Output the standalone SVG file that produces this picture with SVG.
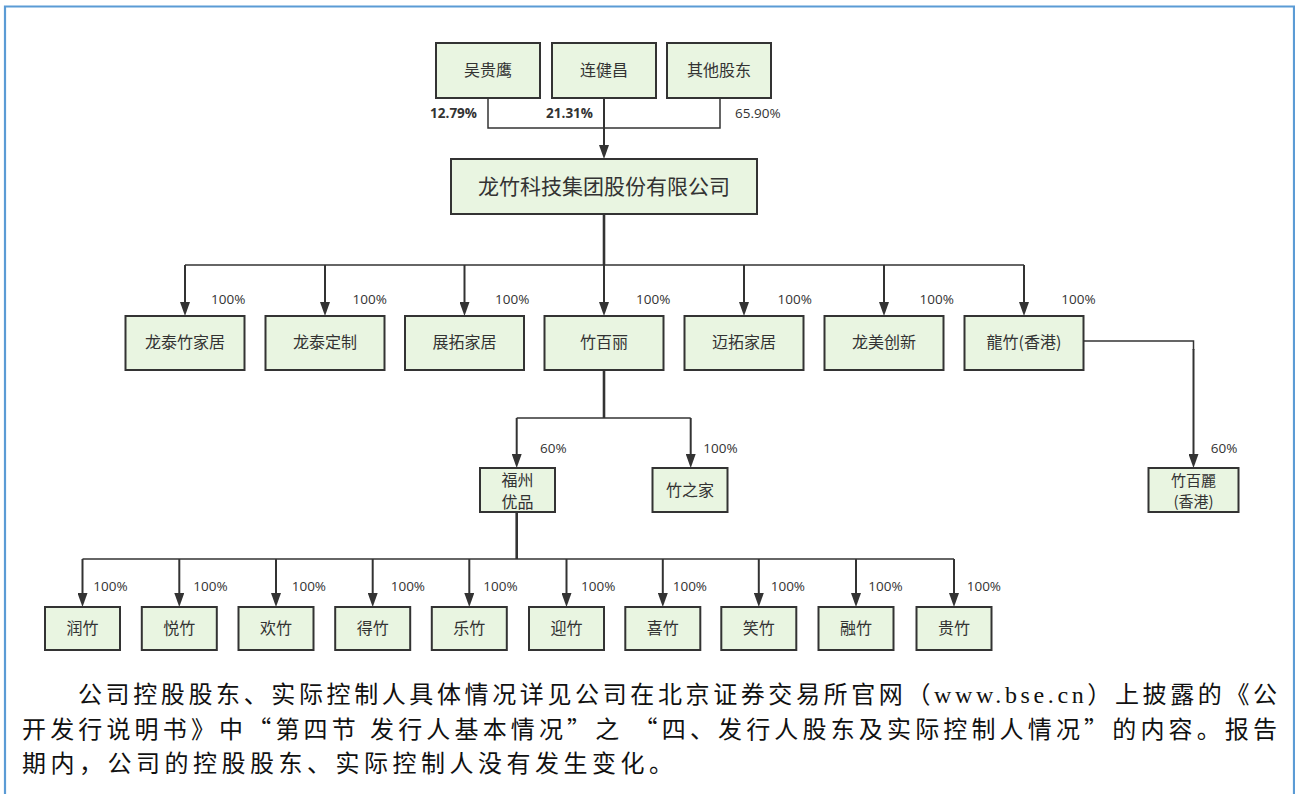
<svg xmlns="http://www.w3.org/2000/svg" width="1295" height="794" viewBox="0 0 1295 794">
<style>
.box{fill:#e9f5e1;stroke:#333;stroke-width:2}
.t{font-family:"Noto Sans CJK SC","Noto Sans",sans-serif;font-size:16px;fill:#333;text-anchor:middle}
.big{font-size:21px}
.sm{font-size:15px}
.p{font-family:"Open Sans","Noto Sans",sans-serif;font-size:13.5px;fill:#333}
.b{font-weight:bold}
.ln{fill:none;stroke:#333;stroke-width:1.5}
.tk{fill:none;stroke:#333;stroke-width:2.6}
.ar{fill:none;stroke:#333;stroke-width:2;marker-end:url(#ah)}
.para{font-family:"Liberation Serif","Noto Sans CJK SC",serif;font-size:24px;fill:#111}
.q{font-family:"Noto Sans CJK SC",sans-serif}
</style>
<defs>
<marker id="ah" markerUnits="userSpaceOnUse" markerWidth="14" markerHeight="10" viewBox="0 0 14 10" refX="6" refY="5" orient="auto">
<path d="M0,0 L14,5 L0,10 z" fill="#333"/>
</marker>
</defs>
<rect width="1295" height="794" fill="#fff"/>
<g id="frame" stroke="#5b9bd5" stroke-width="2.2" fill="none">
<path d="M5,794 V6.5 H1295"/>
<path d="M1294,6.5 V794"/>
</g>
<g id="connectors">
<path class="ln" d="M488,98 V128 H720 V98"/>
<path class="ar" d="M604,98 V151"/>
<path class="tk" d="M604,214 V265"/>
<path class="ln" d="M185,265 H1024"/>
<path class="ar" d="M185,265 V308"/>
<path class="ar" d="M325,265 V308"/>
<path class="ar" d="M464.5,265 V308"/>
<path class="ar" d="M604,265 V308"/>
<path class="ar" d="M744,265 V308"/>
<path class="ar" d="M884,265 V308"/>
<path class="ar" d="M1024,265 V308"/>
<path class="tk" d="M604,370 V418"/>
<path class="ln" d="M516.7,418 H690.7"/>
<path class="ar" d="M516.7,418 V460"/>
<path class="ar" d="M690.7,418 V460"/>
<path class="ln" d="M1084,341 H1193.5 V350"/>
<path class="ar" d="M1193.5,349 V460"/>
<path class="tk" d="M516.7,512 V559"/>
<path class="ln" d="M82.5,559 H954"/>
<path class="ar" d="M82.5,559 V599"/>
<path class="ar" d="M179.3,559 V599"/>
<path class="ar" d="M276,559 V599"/>
<path class="ar" d="M372.7,559 V599"/>
<path class="ar" d="M469.3,559 V599"/>
<path class="ar" d="M566.5,559 V599"/>
<path class="ar" d="M662.8,559 V599"/>
<path class="ar" d="M758.8,559 V599"/>
<path class="ar" d="M856,559 V599"/>
<path class="ar" d="M954,559 V599"/>
</g>
<g id="labels">
<text class="p b" x="477" y="118" text-anchor="end">12.79%</text>
<text class="p b" x="593" y="118" text-anchor="end">21.31%</text>
<text class="p" x="735" y="118">65.90%</text>
<text class="p" x="211" y="304">100%</text>
<text class="p" x="352.5" y="304">100%</text>
<text class="p" x="495" y="304">100%</text>
<text class="p" x="636" y="304">100%</text>
<text class="p" x="777.6" y="304">100%</text>
<text class="p" x="919.5" y="304">100%</text>
<text class="p" x="1061.3" y="304">100%</text>
<text class="p" x="540" y="453">60%</text>
<text class="p" x="703.3" y="453">100%</text>
<text class="p" x="1210.7" y="453">60%</text>
<text class="p" x="93.3" y="591">100%</text>
<text class="p" x="193.3" y="591">100%</text>
<text class="p" x="291.7" y="591">100%</text>
<text class="p" x="390.7" y="591">100%</text>
<text class="p" x="483.3" y="591">100%</text>
<text class="p" x="581" y="591">100%</text>
<text class="p" x="672.7" y="591">100%</text>
<text class="p" x="770.7" y="591">100%</text>
<text class="p" x="868.3" y="591">100%</text>
<text class="p" x="966.7" y="591">100%</text>
</g>
<g id="n-wu"><rect class="box" x="436" y="43" width="104" height="55"/><text class="t" x="488" y="76">吴贵鹰</text></g>
<g id="n-lian"><rect class="box" x="552" y="43" width="104" height="55"/><text class="t" x="604" y="76">连健昌</text></g>
<g id="n-other"><rect class="box" x="667" y="43" width="104" height="55"/><text class="t" x="719" y="76">其他股东</text></g>
<g id="n-main"><rect class="box" x="451" y="159" width="306" height="55"/><text class="t big" x="604" y="194">龙竹科技集团股份有限公司</text></g>
<g id="n-ltzjj"><rect class="box" x="125.5" y="316" width="119" height="54"/><text class="t" x="185" y="348">龙泰竹家居</text></g>
<g id="n-ltdz"><rect class="box" x="265.5" y="316" width="119" height="54"/><text class="t" x="325" y="348">龙泰定制</text></g>
<g id="n-ztjj"><rect class="box" x="405" y="316" width="119" height="54"/><text class="t" x="464.5" y="348">展拓家居</text></g>
<g id="n-zbl"><rect class="box" x="544.5" y="316" width="119" height="54"/><text class="t" x="604" y="348">竹百丽</text></g>
<g id="n-mtjj"><rect class="box" x="684.5" y="316" width="119" height="54"/><text class="t" x="744" y="348">迈拓家居</text></g>
<g id="n-lmcx"><rect class="box" x="824.5" y="316" width="119" height="54"/><text class="t" x="884" y="348">龙美创新</text></g>
<g id="n-lzhk"><rect class="box" x="964.5" y="316" width="119" height="54"/><text class="t" x="1024" y="348">龍竹(香港)</text></g>
<g id="n-fzyp"><rect class="box" x="480" y="468" width="75" height="44"/><text class="t" x="517.5" y="486">福州</text><text class="t" x="517.5" y="507.5">优品</text></g>
<g id="n-zzj"><rect class="box" x="652.5" y="468" width="75" height="44"/><text class="t" x="690" y="496">竹之家</text></g>
<g id="n-zblhk"><rect class="box" x="1148.5" y="468" width="90" height="44"/><text class="t sm" x="1193.5" y="485.5">竹百麗</text><text class="t sm" x="1193.5" y="507">(香港)</text></g>
<g id="n-b1"><rect class="box" x="45" y="607" width="75" height="43"/><text class="t" x="82.5" y="634">润竹</text></g>
<g id="n-b2"><rect class="box" x="141.8" y="607" width="75" height="43"/><text class="t" x="179.3" y="634">悦竹</text></g>
<g id="n-b3"><rect class="box" x="238.5" y="607" width="75" height="43"/><text class="t" x="276" y="634">欢竹</text></g>
<g id="n-b4"><rect class="box" x="335.2" y="607" width="75" height="43"/><text class="t" x="372.7" y="634">得竹</text></g>
<g id="n-b5"><rect class="box" x="431.8" y="607" width="75" height="43"/><text class="t" x="469.3" y="634">乐竹</text></g>
<g id="n-b6"><rect class="box" x="529" y="607" width="75" height="43"/><text class="t" x="566.5" y="634">迎竹</text></g>
<g id="n-b7"><rect class="box" x="625.3" y="607" width="75" height="43"/><text class="t" x="662.8" y="634">喜竹</text></g>
<g id="n-b8"><rect class="box" x="721.3" y="607" width="75" height="43"/><text class="t" x="758.8" y="634">笑竹</text></g>
<g id="n-b9"><rect class="box" x="818.5" y="607" width="75" height="43"/><text class="t" x="856" y="634">融竹</text></g>
<g id="n-b10"><rect class="box" x="916.5" y="607" width="75" height="43"/><text class="t" x="954" y="634">贵竹</text></g>
<g id="paragraph">
<text class="para" x="78" y="703" textLength="1199" lengthAdjust="spacing">公司控股股东、实际控制人具体情况详见公司在北京证券交易所官网（www.bse.cn）上披露的《公</text>
<text class="para" x="22" y="738" textLength="1255" lengthAdjust="spacing">开发行说明书》中<tspan class="q">“</tspan>第四节 发行人基本情况<tspan class="q">”</tspan>之 <tspan class="q">“</tspan>四、发行人股东及实际控制人情况<tspan class="q">”</tspan>的内容。报告</text>
<text class="para" x="22" y="772" textLength="651" lengthAdjust="spacing">期内，公司的控股股东、实际控制人没有发生变化。</text>
</g>
</svg>
